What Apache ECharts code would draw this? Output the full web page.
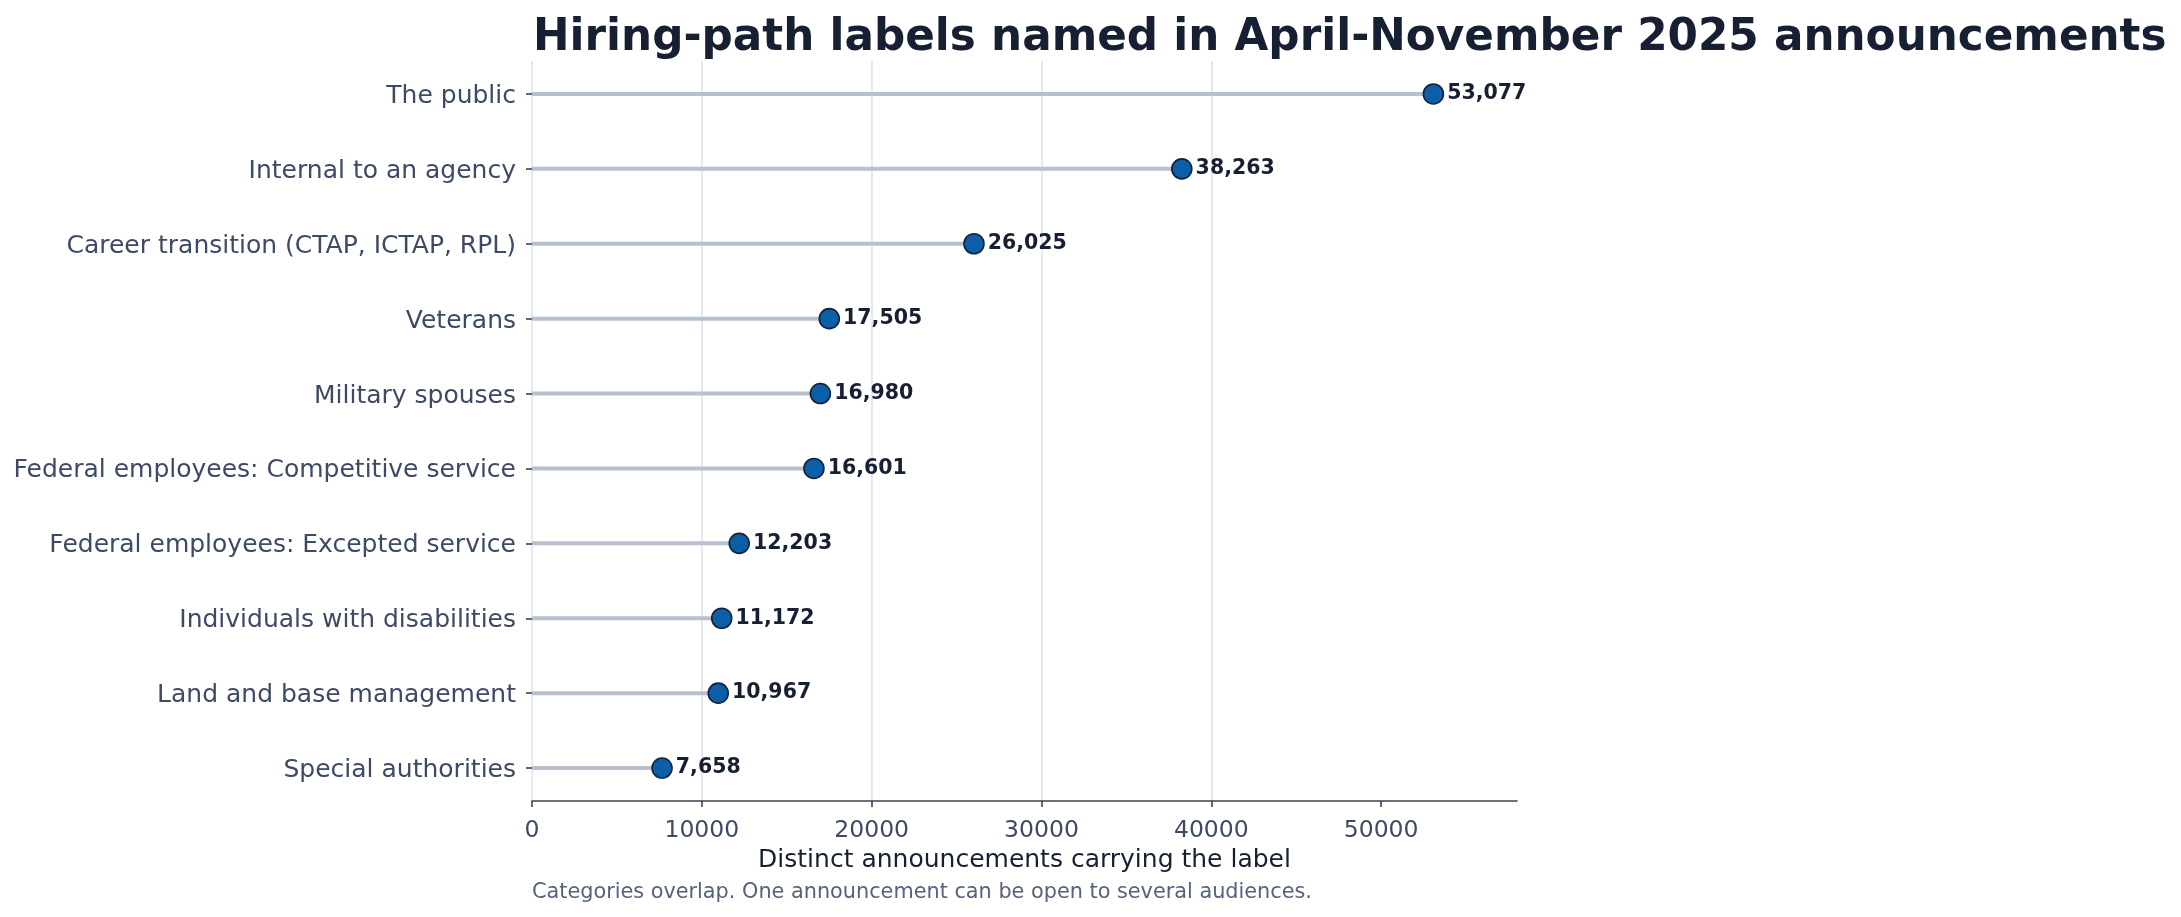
<!DOCTYPE html>
<html>
<head>
<meta charset="utf-8">
<script src="https://cdn.jsdelivr.net/npm/echarts@6/dist/echarts.min.js"></script>
<style>
  html, body { margin: 0; padding: 0; background: #fff; }
  #chart { width: 2181px; height: 917px; }
</style>
</head>
<body>
<div id="chart"></div>
<script>
// hiring-path labels, top to bottom
var categories = [
    'The public',
    'Internal to an agency',
    'Career transition (CTAP, ICTAP, RPL)',
    'Veterans',
    'Military spouses',
    'Federal employees: Competitive service',
    'Federal employees: Excepted service',
    'Individuals with disabilities',
    'Land and base management',
    'Special authorities'
];
var counts = [53077, 38263, 26025, 17505, 16980, 16601, 12203, 11172, 10967, 7658];
var xTicks = [0, 10000, 20000, 30000, 40000, 50000];
var xMax = 58000;

var titleText = 'Hiring-path labels named in April-November 2025 announcements';
var xName = 'Distinct announcements carrying the label';
var noteText = 'Categories overlap. One announcement can be open to several audiences.';

var font = 'DejaVu Sans';
var dark = '#172033';
var slate = '#3d4a66';

var plotLeft = 532, plotWidth = 985;

var chart = echarts.init(document.getElementById('chart'));
var option = {
    backgroundColor: '#fff',
    animation: false,
    title: [{
        text: titleText,
        left: plotLeft + 1,
        top: 17,
        padding: 0,
        textStyle: { fontFamily: font, fontSize: 43.7, fontWeight: 'bold', color: dark }
    }, {
        text: noteText,
        left: plotLeft,
        top: 882,
        padding: 0,
        textStyle: { fontFamily: font, fontSize: 20.8, fontWeight: 'normal', color: '#56627d' }
    }],
    grid: [
        // axis frame (x axis + grid lines)
        { left: plotLeft, width: plotWidth, top: 61, height: 740 },
        // data rows, one band per category
        { left: plotLeft, width: plotWidth, top: 56.5, height: 749 }
    ],
    xAxis: [{
        gridIndex: 0,
        type: 'value',
        min: 0,
        max: xMax,
        interval: 10000,
        name: xName,
        nameLocation: 'middle',
        nameGap: 45,
        nameTextStyle: { fontFamily: font, fontSize: 25, color: dark },
        axisLine: { show: true, lineStyle: { color: '#3a4252', width: 1.6 } },
        axisTick: { show: true, length: 6, customValues: xTicks, lineStyle: { color: '#3a4252', width: 1.6 } },
        axisLabel: {
            fontFamily: font, fontSize: 23.5, color: slate, margin: 18, customValues: xTicks,
            formatter: function (v) { return String(v); }
        },
        splitLine: { show: true, showMaxLine: false, lineStyle: { color: '#dde0ea', width: 1.5 } }
    }, {
        gridIndex: 1,
        type: 'value',
        min: 0,
        max: xMax,
        show: false
    }],
    yAxis: [{
        gridIndex: 0,
        type: 'value',
        min: 0,
        max: 1,
        show: false
    }, {
        gridIndex: 1,
        type: 'category',
        inverse: true,
        data: categories,
        axisLine: { show: false },
        axisTick: { show: true, length: 6, alignWithLabel: true, lineStyle: { color: '#3a4252', width: 1.6 } },
        // small line box so the caps sit centred on the tick like the original
        axisLabel: { fontFamily: font, fontSize: 25, color: slate, margin: 16, verticalAlign: 'top', lineHeight: 5 },
        splitLine: { show: false }
    }],
    series: [{
        type: 'bar',
        xAxisIndex: 1,
        yAxisIndex: 1,
        data: counts,
        barWidth: 4,
        itemStyle: { color: '#b6c0cf' },
        silent: true
    }, {
        type: 'scatter',
        xAxisIndex: 1,
        yAxisIndex: 1,
        data: counts,
        symbol: 'circle',
        symbolSize: 20,
        itemStyle: { color: '#0b5ea8', borderColor: '#15213a', borderWidth: 1.6, opacity: 1 },
        label: {
            show: true,
            position: 'right',
            distance: 3,
            fontFamily: font,
            fontSize: 20.5,
            fontWeight: 'bold',
            color: dark,
            formatter: function (p) {
                return p.value.toLocaleString('en-US');
            }
        },
        z: 5
    }]
};
chart.setOption(option);
</script>
</body>
</html>
